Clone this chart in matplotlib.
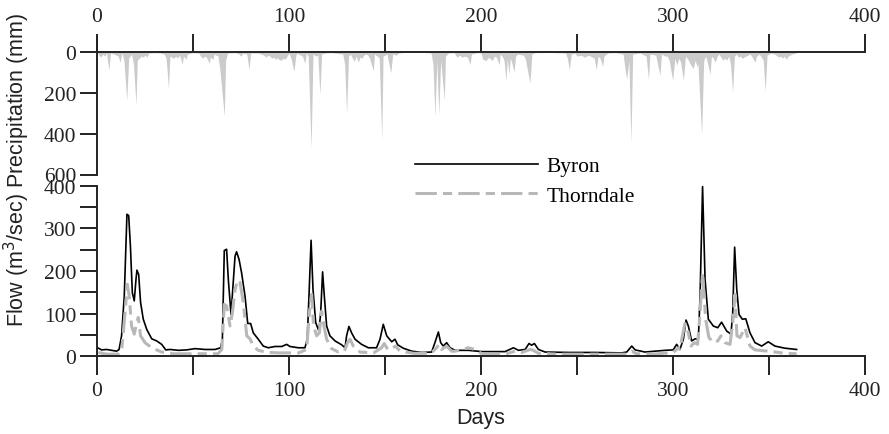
import matplotlib
matplotlib.use('Agg')
import matplotlib.pyplot as plt
from matplotlib.ticker import MultipleLocator

# daily precipitation (mm)
precip_day = [0, 1, 2, 3, 4, 5, 6.2, 7, 9, 11, 12, 13, 14, 15.5, 16.5, 18, 19, 20.3, 21, 22,
              23, 24, 25, 26, 27, 30, 33, 35, 36, 37.2, 38, 40, 41, 42, 43, 44.4, 45, 46.5, 47, 50,
              53, 54, 55, 56, 57, 58.5, 59, 60.5, 61, 63, 64, 66.3, 67, 68, 72, 74, 75, 76, 78, 79.2,
              80, 84, 87, 88, 89, 90, 91, 92, 93, 94, 95, 96, 97, 98, 99, 100, 101, 102.6, 103.5, 104,
              107, 108.3, 109, 110, 111.5, 112.5, 114, 115, 116.1, 117, 119, 122, 128, 129, 130, 131, 132, 133, 134, 135,
              136, 137, 138, 139, 140, 141, 142, 143.9, 144.5, 146, 147, 148.3, 149, 151, 153, 154, 156, 157, 160, 170,
              174, 175, 176, 177, 178, 179, 180.9, 181.5, 183, 186, 187.5, 189, 190, 191.5, 193, 194.3, 195, 198, 200, 201,
              202.5, 204, 205, 206, 207, 208, 209.5, 210, 211, 212, 213, 213.7, 214.5, 215.3, 216, 217.2, 218, 219, 222, 223,
              225.5, 226.5, 228, 235, 244, 245, 246, 247, 249, 250, 252, 254, 256, 258, 259, 260, 261, 262, 263.4, 264,
              266, 270, 274, 275, 275.9, 277, 278.1, 279, 283, 286, 287.2, 288, 291, 293.2, 294, 296, 297, 298, 299.8, 301,
              302, 303, 304, 305.4, 306.5, 308, 309, 310.6, 311.5, 312.5, 313, 314.9, 316, 317, 318, 319.3, 320, 321, 322, 323,
              324, 326, 327, 328, 329, 330, 331, 332, 333, 334, 335, 336, 337, 338, 340, 341, 342.7, 343.5, 345, 347,
              348, 349, 351, 353, 355, 356, 357, 358, 359, 360, 362, 364, 365]
precip_mm = [0, 15, 25, 10, 20, 5, 89, 5, 10, 20, 49, 5, 40, 236, 30, 10, 60, 257, 40, 30,
             20, 25, 15, 25, 5, 3, 5, 10, 30, 175, 20, 30, 20, 30, 15, 60, 20, 35, 10, 3,
             5, 20, 30, 20, 25, 55, 25, 35, 10, 20, 85, 314, 40, 5, 3, 10, 20, 5, 10, 86,
             5, 5, 15, 25, 15, 20, 30, 25, 35, 28, 38, 40, 30, 35, 20, 5, 30, 94, 20, 5,
             20, 55, 5, 20, 471, 10, 20, 15, 208, 10, 5, 3, 10, 60, 301, 20, 10, 30, 45, 20,
             50, 25, 30, 15, 10, 15, 30, 93, 10, 20, 30, 428, 20, 10, 102, 10, 15, 5, 2, 2,
             5, 60, 314, 40, 305, 40, 236, 20, 5, 3, 25, 15, 25, 20, 25, 62, 10, 3, 5, 35,
             42, 25, 35, 40, 20, 25, 62, 10, 20, 40, 138, 30, 105, 30, 50, 98, 20, 10, 15, 30,
             151, 10, 3, 2, 5, 30, 86, 10, 5, 20, 15, 25, 15, 25, 30, 86, 20, 30, 70, 20,
             5, 3, 10, 80, 133, 40, 444, 10, 5, 20, 133, 10, 15, 114, 10, 20, 20, 40, 138, 30,
             65, 30, 50, 138, 20, 40, 60, 80, 40, 70, 60, 403, 40, 20, 55, 109, 20, 30, 50, 20,
             10, 40, 30, 40, 20, 60, 198, 20, 10, 25, 20, 30, 25, 20, 10, 20, 50, 20, 10, 40,
             192, 15, 5, 10, 25, 20, 30, 20, 35, 20, 10, 5, 0]

# Byron flow (m3/s)
byron_day = [0.3, 2.4, 5, 7.6, 10.2, 11.5, 12.8, 14.2, 15.6, 16.5, 17.4, 18.4, 19.4, 20.3, 20.8, 21.7, 22.7, 24.1, 25.9, 28.5,
             31.1, 33.7, 35.8, 38, 42.4, 46.7, 51, 56.3, 61.5, 64.4, 65.3, 66.3, 67.5, 68.4, 69.8, 70.7, 71.9, 72.7, 74, 75.3,
             77.1, 78.5, 80, 81.4, 84, 86.6, 89.2, 92.7, 96.2, 98.8, 100.5, 104.9, 108.3, 109.5, 110.4, 111.5, 112.5, 113.9, 115.6, 116.5,
             117.5, 118.4, 119.6, 121.3, 124, 127.4, 129.2, 130, 131.2, 132.6, 134.4, 137.8, 141.3, 145.6, 147.4, 149.1, 150.9, 153.5, 155.2, 156.6,
             159.5, 163.9, 169.1, 174.3, 176, 177.8, 179, 180.4, 182.1, 183.9, 186.5, 193.4, 200.4, 212.5, 216.9, 219.5, 223, 225, 226.4, 227.8,
             229.9, 233.4, 245.5, 259.4, 273.3, 275.9, 278.5, 280.3, 285.4, 290.6, 295.8, 300.1, 301.9, 303.6, 305.4, 306.8, 308, 309.7, 311.5, 313.2,
             314.1, 315.4, 316.7, 318.4, 321, 323.3, 325.3, 328, 330.2, 331.1, 332.1, 333.2, 334.4, 336.1, 337.9, 340.1, 342.7, 346.2, 349.6, 353.1,
             358.3, 364.4]
byron_q = [20, 15, 16, 14, 12, 16, 48, 141, 333, 330, 259, 149, 130, 180, 202, 192, 126, 87, 63, 41,
           36, 28, 15, 16, 14, 15, 18, 16, 16, 20, 40, 248, 251, 180, 98, 157, 235, 245, 227, 196,
           141, 77, 77, 55, 40, 24, 20, 23, 23, 28, 23, 20, 20, 40, 141, 272, 157, 79, 59, 102,
           198, 141, 71, 48, 36, 27, 20, 48, 70, 55, 40, 28, 20, 20, 40, 75, 48, 34, 40, 27,
           19, 12, 9, 10, 32, 57, 32, 24, 32, 20, 14, 14, 11, 11, 20, 14, 16, 30, 26, 30,
           16, 10, 9, 9, 8, 10, 24, 15, 10, 12, 14, 15, 28, 16, 40, 85, 71, 36, 41, 40,
           141, 398, 180, 87, 71, 67, 80, 59, 52, 102, 256, 157, 98, 87, 88, 55, 32, 24, 34, 24,
           19, 16]

# Thorndale flow (m3/s)
thorn_day = [0.7, 5, 11, 12.8, 14.6, 15.8, 16.8, 18, 19.4, 20.7, 21.5, 22.7, 25, 28.5, 33.7, 40, 55, 63, 65, 66.3,
             67.5, 69.3, 70.5, 71.9, 73.3, 74.5, 76.2, 78, 79.7, 81.4, 84, 89, 95, 105, 109.2, 110.6, 111.8, 112.8, 114.4, 115.8,
             117, 118.2, 119.6, 122.2, 125.7, 128.8, 130.5, 131.8, 133.5, 137, 144, 148.2, 149.6, 151.4, 153.5, 155.5, 157.8, 165, 174, 176.9,
             178.1, 179.5, 182.1, 184.7, 186.5, 190, 193.4, 196.9, 200.4, 212.5, 217.7, 221.2, 225.6, 227.3, 229.9, 240, 270, 276, 278.5, 281,
             290, 300.1, 302.8, 303.5, 306.2, 307.6, 309.4, 311.1, 312.8, 314.1, 315.4, 317, 318.7, 321, 323.3, 325, 327.1, 329.7, 331.1, 332.3,
             333.3, 334.9, 337.5, 340.1, 342.7, 349.6, 358.3, 364.4]
thorn_q = [9, 5, 5, 12, 102, 169, 141, 71, 52, 79, 91, 48, 32, 20, 10, 6, 6, 6, 16, 122,
           118, 71, 102, 157, 179, 173, 126, 48, 41, 24, 14, 9, 8, 8, 16, 102, 145, 71, 48, 55,
           106, 71, 40, 18, 10, 12, 32, 40, 24, 10, 8, 20, 30, 16, 18, 24, 12, 7, 7, 20,
           28, 16, 24, 12, 12, 16, 20, 16, 6, 5, 12, 9, 16, 14, 7, 5, 5, 5, 12, 6,
           5, 9, 20, 16, 77, 63, 24, 32, 28, 102, 196, 87, 44, 32, 36, 48, 32, 28, 79, 145,
           48, 44, 67, 24, 15, 12, 7, 6]

serif = 'Liberation Serif'
sans = 'Liberation Sans'
ink = '#222222'
plt.rcParams['font.family'] = serif
plt.rcParams['font.size'] = 15.5

fig = plt.figure(figsize=(8.89, 4.35), dpi=100)
W, H = 889, 435


def box(x0, y0, x1, y1):
    return [x0 / W, 1 - y1 / H, (x1 - x0) / W, (y1 - y0) / H]


# precipitation panel (inverted)
ax_p = fig.add_axes(box(97, 40, 865, 175.5))
ax_p.fill_between(precip_day, precip_mm, 0, color='#cbcbcb', lw=0)
ax_p.set_xlim(0, 400)
ax_p.set_ylim(600, -64)
ax_p.spines['right'].set_visible(False)
ax_p.spines['bottom'].set_visible(False)
ax_p.spines['top'].set_position(('data', 0))
for s in ('top', 'left'):
    ax_p.spines[s].set_linewidth(1.4)
    ax_p.spines[s].set_color(ink)
ax_p.xaxis.set_ticks_position('top')
ax_p.xaxis.set_major_locator(MultipleLocator(100))
ax_p.xaxis.set_minor_locator(MultipleLocator(50))
ax_p.tick_params(axis='x', which='both', direction='out', length=13, width=1.4,
                 color=ink, labelcolor=ink, pad=6)
ax_p.set_yticks([0, 200, 400, 600])
ax_p.tick_params(axis='y', direction='out', length=12, width=1.4, color=ink,
                 labelcolor=ink, pad=3)

# flow panel
ax_q = fig.add_axes(box(97, 186.7, 865, 357.3))
l1, = ax_q.plot(byron_day, byron_q, color='black', lw=1.2, label='Byron')
l2, = ax_q.plot(thorn_day, thorn_q, color='#b8b8b8', lw=2.2,
                ls=(0, (7, 2, 3, 2)), label='Thorndale')
ax_q.set_xlim(0, 400)
ax_q.set_ylim(0, 400)
ax_q.spines['right'].set_visible(False)
ax_q.spines['top'].set_visible(False)
for s in ('bottom', 'left'):
    ax_q.spines[s].set_linewidth(1.4)
    ax_q.spines[s].set_color(ink)
ax_q.xaxis.set_major_locator(MultipleLocator(100))
ax_q.xaxis.set_minor_locator(MultipleLocator(50))
ax_q.yaxis.set_major_locator(MultipleLocator(100))
ax_q.yaxis.set_minor_locator(MultipleLocator(50))
ax_q.tick_params(axis='x', which='both', direction='out', length=14, width=1.4,
                 color=ink, labelcolor=ink, pad=4)
ax_q.tick_params(axis='y', which='both', direction='out', length=12, width=1.4,
                 color=ink, labelcolor=ink, pad=3)
ax_q.set_xlabel('Days', fontfamily=sans, fontsize=15.5, color=ink, labelpad=5)

fig.text(17 / W, 1 - 170 / H, 'Flow (m$^3$/sec) Precipitation (mm)', rotation=90,
         ha='center', va='center', fontfamily=sans, fontsize=15.5, color=ink)

ax_q.legend(handles=[l1, l2], loc='center left', bbox_to_anchor=(415 / W, 1 - 182 / H),
            bbox_transform=fig.transFigure, frameon=False, borderpad=0, borderaxespad=0,
            handlelength=5.7, handletextpad=0.4, labelspacing=0.45,
            prop={'family': serif, 'size': 15.5})

fig.savefig('out.png', dpi=100)
